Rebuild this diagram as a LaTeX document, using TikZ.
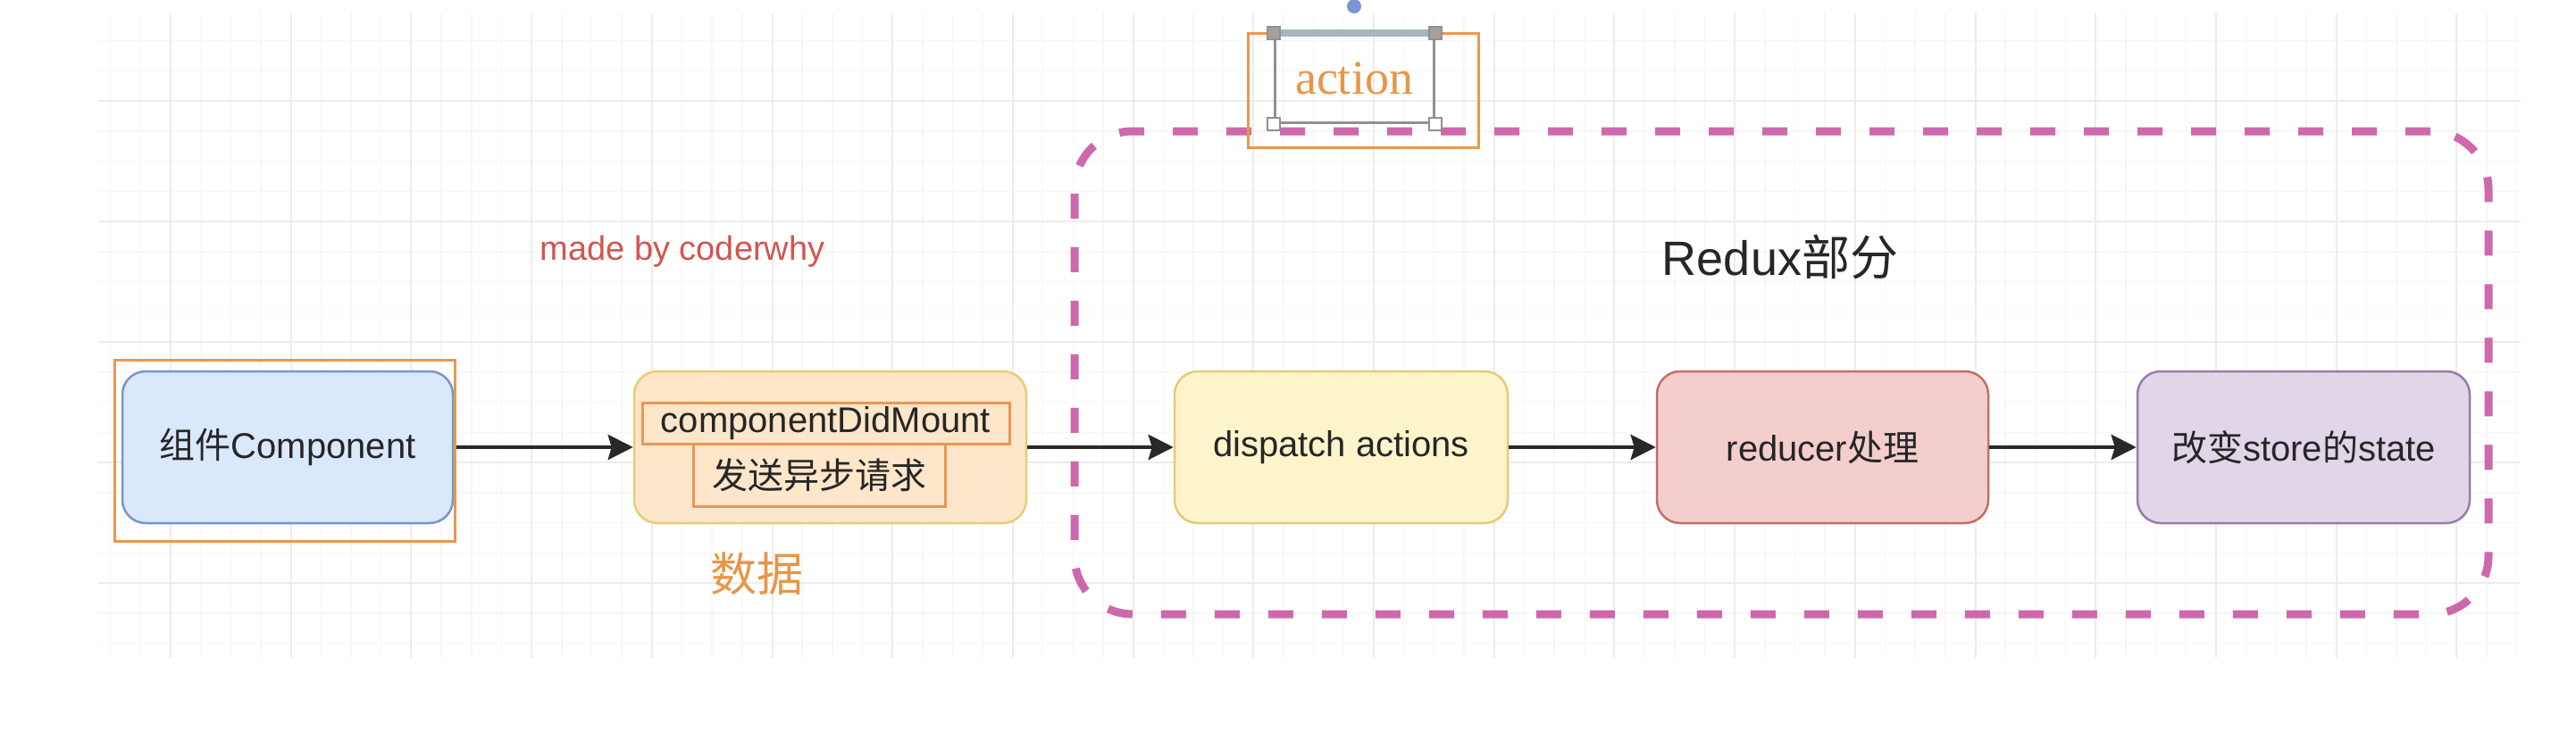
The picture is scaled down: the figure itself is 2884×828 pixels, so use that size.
\documentclass[tikz,border=0pt]{standalone}
\usepackage{fontspec}
\setmainfont{Liberation Sans}
\newfontfamily\cjk{Noto Sans CJK SC}
\newfontfamily\actfont{Liberation Serif}
\usetikzlibrary{arrows.meta}
\definecolor{gridminor}{RGB}{247,247,247}
\definecolor{gridmajor}{RGB}{236,236,236}
\definecolor{bluefill}{RGB}{218,232,252}
\definecolor{bluedraw}{RGB}{120,150,200}
\definecolor{orfill}{RGB}{253,230,202}
\definecolor{ordraw}{RGB}{232,204,120}
\definecolor{yelfill}{RGB}{254,244,204}
\definecolor{yeldraw}{RGB}{226,204,120}
\definecolor{redfill}{RGB}{244,206,204}
\definecolor{reddraw}{RGB}{196,110,106}
\definecolor{purfill}{RGB}{224,214,232}
\definecolor{purdraw}{RGB}{150,125,170}
\definecolor{hilite}{RGB}{236,150,80}
\definecolor{dashpink}{RGB}{206,104,172}
\definecolor{madered}{RGB}{210,84,80}
\definecolor{textorange}{RGB}{232,150,70}
\definecolor{arrowcol}{RGB}{40,40,40}
\definecolor{selgray}{RGB}{140,146,146}
\definecolor{seltop}{RGB}{166,182,186}
\definecolor{handlefill}{RGB}{168,160,150}
\definecolor{rotblue}{RGB}{120,150,214}
\begin{document}
\begin{tikzpicture}[x=1pt,y=-1pt,
  boxstyle/.style={rectangle, rounded corners=26pt, line width=2.5pt,
    minimum height=170pt, inner sep=0pt, font=\fontsize{40}{48}\selectfont, text=black!85},
  hirect/.style={draw=hilite, line width=3pt},
  arr/.style={draw=arrowcol, line width=4.5pt, -{Stealth[length=28pt,width=28pt,inset=4pt]}}
]
\useasboundingbox (0,0) rectangle (2884,828);
\fill[white] (0,0) rectangle (2884,828);
% grid
\begin{scope}
\clip (110,15) rectangle (2822,737);
\foreach \k in {-3,...,79} \draw[gridminor, line width=1.5pt] ({191+33.675*\k},15) -- ({191+33.675*\k},737);
\foreach \k in {-3,...,19} \draw[gridminor, line width=1.5pt] (110,{113+33.75*\k}) -- (2822,{113+33.75*\k});
\foreach \k in {-1,...,20} \draw[gridmajor, line width=2pt] ({191+134.7*\k},15) -- ({191+134.7*\k},737);
\foreach \k in {-1,...,5} \draw[gridmajor, line width=2pt] (110,{113+135*\k}) -- (2822,{113+135*\k});
\end{scope}

% redux dashed region
\node[draw=dashpink, line width=9pt, dash pattern=on 28pt off 32pt,
  rounded corners=65pt, minimum width=1583pt, minimum height=541pt, inner sep=0pt]
  (redux) at (1994.5,417.5) {};
\node[font=\fontsize{54}{60}\selectfont, text=black!85, inner sep=0pt] (reduxlbl) at (1993,288) {Redux{\cjk 部分}};

% boxes
\node[boxstyle, fill=bluefill, draw=bluedraw, minimum width=370pt] (comp) at (322,501) {{\cjk 组件}Component};
\node[boxstyle, fill=orfill, draw=ordraw, minimum width=439pt] (cdm) at (929.5,501) {};
\node[boxstyle, fill=yelfill, draw=yeldraw, minimum width=373pt] (disp) at (1501.5,501) {dispatch actions};
\node[boxstyle, fill=redfill, draw=reddraw, minimum width=371pt] (red) at (2040.5,501) {reducer{\cjk 处理}};
\node[boxstyle, fill=purfill, draw=purdraw, minimum width=372pt] (state) at (2579,501) {{\cjk 改变}store{\cjk 的}state};

% highlight rectangles
\node[hirect, rectangle, minimum width=381pt, minimum height=203pt, inner sep=0pt] (comphl) at (318.5,504.5) {};
\node[hirect, rectangle, minimum width=411pt, minimum height=46pt, inner sep=0pt,
  font=\fontsize{40}{48}\selectfont, text=black!85] (cdmtxt) at (924.5,474) {componentDidMount};
\node[hirect, rectangle, minimum width=282pt, minimum height=70pt, inner sep=0pt,
  font=\cjk\fontsize{40}{48}\selectfont, text=black!85] (reqtxt) at (917,532) {发送异步请求};

% arrows
\draw[arr] (comphl.east |- comp.east) -- (cdm.west);
\draw[arr] (cdm.east) -- (disp.west);
\draw[arr] (disp.east) -- (red.west);
\draw[arr] (red.east) -- (state.west);

% labels
\node[font=\cjk\fontsize{52}{60}\selectfont, text=textorange, inner sep=0pt] (data) at (847,643) {数据};
\node[font=\fontsize{38}{44}\selectfont, text=madered, inner sep=0pt] (made) at (764,282) {made by coderwhy};

% action element with selection handles
\node[hirect, rectangle, minimum width=258pt, minimum height=128pt, inner sep=0pt] (acthl) at (1526,101) {};
\node[draw=selgray, line width=3pt, rectangle, minimum width=178pt, minimum height=99pt, inner sep=0pt,
  font=\actfont\fontsize{54}{60}\selectfont, text=textorange] (action) at (1516,87.5) {action};
\draw[seltop, line width=8pt] (action.north west) -- (action.north east);
\foreach \c in {north west, north east}
  \node[fill=handlefill, draw=selgray, line width=2pt, minimum size=14pt, inner sep=0pt] at (action.\c) {};
\foreach \c in {south west, south east}
  \node[fill=white, draw=selgray, line width=2pt, minimum size=14pt, inner sep=0pt] at (action.\c) {};
\node[circle, fill=rotblue, minimum size=16pt, inner sep=0pt] (rot) at (1516,7) {};
\end{tikzpicture}
\end{document}
